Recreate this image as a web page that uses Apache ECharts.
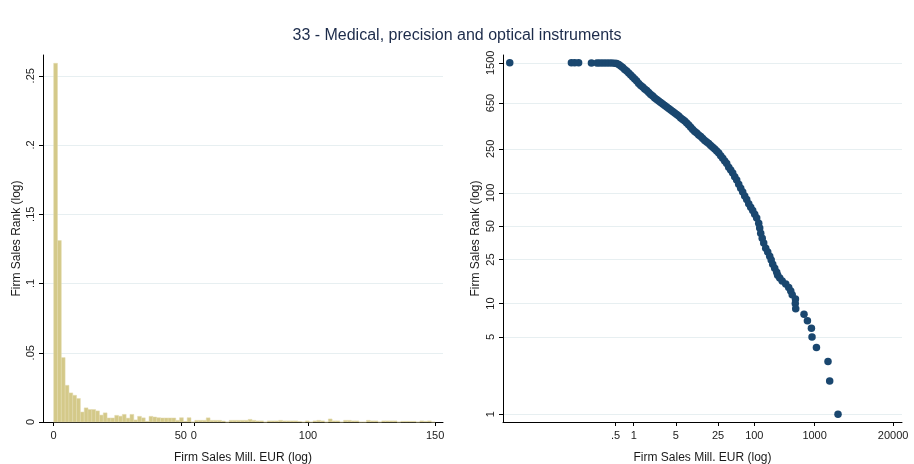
<!DOCTYPE html>
<html>
<head>
<meta charset="utf-8">
<script src="https://cdn.jsdelivr.net/npm/echarts@6/dist/echarts.min.js"></script>
<style>
html,body{margin:0;padding:0;background:#fff;}
#c{width:914px;height:464px;}
</style>
</head>
<body>
<div id="c"></div>
<script>
// ---------- DATA ----------
const chartTitle = '33 - Medical, precision and optical instruments';
const xAxisTitle = 'Firm Sales Mill. EUR (log)';
const yAxisTitle = 'Firm Sales Rank (log)';

// Histogram (left): bins of width 1.5 starting at 0, density heights
const histBinStart = 0;
const histBinWidth = 1.5;
const histHeights = [
  0.259, 0.131, 0.0465, 0.0265, 0.021, 0.0193, 0.017, 0.0072, 0.0102, 0.009,
  0.009, 0.008, 0.005, 0.0066, 0.0029, 0.0029, 0.0048, 0.0042, 0.0055, 0.0028,
  0.0055, 0.0015, 0.0041, 0.003, 0.0005, 0.0041, 0.0036, 0.0031, 0.0029, 0.0029,
  0.0029, 0.0029, 0.0012, 0.0031, 0.0005, 0.0031, 0, 0.0012, 0.0012, 0.0012,
  0.003, 0.0012, 0.0012, 0.0012, 0.0007, 0, 0.0012, 0.0012, 0.0012, 0.0012,
  0.0012, 0.0019, 0.0012, 0.0008, 0.0008, 0, 0.0008, 0.0008, 0.0008, 0.0012,
  0.0008, 0.0008, 0.0008, 0.0008, 0.0004, 0, 0.0008, 0, 0.0008, 0.0012,
  0.0008, 0, 0.0022, 0.0008, 0.0008, 0, 0.0012, 0.0012, 0.0008, 0.0008,
  0, 0, 0.0012, 0.0008, 0.0008, 0, 0.0008, 0.0008, 0.0008, 0.0008,
  0, 0.0005, 0.0005, 0.0005, 0.0005, 0, 0.0008, 0.0005, 0.0008, 0
];
const histXTicks = [0, 50, 55.1, 100, 150];
const histXTickLabels = ['0', '50', '0', '100', '150'];
const histYTicks = [0, 0.05, 0.1, 0.15, 0.2, 0.25];
const histYTickLabels = ['0', '.05', '.1', '.15', '.2', '.25'];

// Rank-size scatter (right): firm sales (mill. EUR) and rank
const rankSales = [
  0.0088, 0.0926, 0.105, 0.122, 0.199, 0.246, 0.273, 0.306, 0.343, 0.385, 0.432, 0.484, 0.522,
  0.564, 0.609, 0.657, 0.709, 0.765, 0.826, 0.892, 0.962, 1.039, 1.121,
  1.210, 1.307, 1.410, 1.522, 1.643, 1.774, 1.914, 2.066, 2.230, 2.407,
  2.598, 2.804, 3.027, 3.267, 3.526, 3.806, 4.108, 4.434, 4.786, 5.166,
  5.576, 6.018, 6.496, 7.011, 7.568, 8.168, 8.816, 9.515, 10.27, 11.09,
  11.96, 12.92, 13.94, 15.05, 16.24, 17.53, 18.92, 20.42, 22.04, 23.79,
  25.68, 27.72, 29.92, 32.29, 34.85, 37.62, 40.60, 43.83, 47.31, 51.06,
  55.11, 59.49, 64.21, 69.31, 74.81, 80.74, 87.15, 94.07, 101.5, 109.6,
  118.3, 122.9, 127.7, 135.2, 143.2, 154.6, 166.9, 180.1, 190.7, 201.9,
  217.9, 235.2,
  244, 264, 290, 332, 372, 402, 425, 481, 478, 486, 667, 760, 885, 906, 1072, 1667, 1778, 2443
];
const rankValues = [
  1500, 1499, 1498, 1497, 1496, 1495, 1494, 1493, 1492, 1491, 1490, 1488, 1476,
  1445, 1401, 1358, 1302, 1263, 1211, 1162, 1114, 1069, 1025,
  973, 934, 905, 868, 841, 807, 774, 750, 720, 698,
  676, 655, 635, 616, 597, 578, 561, 543, 527, 511,
  495, 475, 460, 446, 428, 410, 393, 374, 358, 347,
  333, 323, 310, 297, 288, 279, 268, 259, 249, 239,
  229, 217, 206, 194, 184, 171, 161, 151, 140, 131,
  120, 110, 102, 93.6, 87.0, 80.0, 74.4, 69.2, 64.3, 59.2,
  53.3, 48.1, 43.3, 39.0, 35.2, 31.7, 29.2, 26.8, 24.7, 22.7,
  20.9, 19.2,
  18, 17, 16, 15, 14, 13, 12, 11, 10, 9, 8, 7, 6, 5, 4, 3, 2, 1
];
const rankXTicks = [0.5, 1, 5, 25, 100, 1000, 20000];
const rankXTickLabels = ['.5', '1', '5', '25', '100', '1000', '20000'];
const rankYTicks = [1, 5, 10, 25, 50, 100, 250, 650, 1500];
const rankYTickLabels = ['1', '5', '10', '25', '50', '100', '250', '650', '1500'];

// ---------- CHART ----------
function labelFor(ticks, labels) {
  return function (v) {
    for (let i = 0; i < ticks.length; i++) {
      if (Math.abs(ticks[i] - v) <= 1e-4 * Math.max(1, Math.abs(ticks[i]))) return labels[i];
    }
    return '';
  };
}

const histData = histHeights.map((h, i) => [
  histBinStart + i * histBinWidth,
  histBinStart + (i + 1) * histBinWidth,
  h
]);
const scatterData = rankSales.map((s, i) => [s, rankValues[i]]);

const FONT = '"Liberation Sans", Arial, sans-serif';
const TXT = '#1a1a1a';
const GRIDC = '#e7eff1';

function axisCommon() {
  return {
    axisLine: { show: true, onZero: false, lineStyle: { color: '#000', width: 1 } },
    nameTextStyle: { color: TXT, fontFamily: FONT, fontSize: 12 },
    nameLocation: 'middle',
    nameMoveOverlap: false
  };
}

const chart = echarts.init(document.getElementById('c'), null, { renderer: 'canvas' });

const option = {
  backgroundColor: '#fff',
  animation: false,
  title: {
    text: chartTitle,
    left: 'center',
    top: 23,
    textStyle: { color: '#1c2b4a', fontFamily: FONT, fontSize: 16, fontWeight: 'normal' }
  },
  grid: [
    { left: 43, top: 55, width: 400, height: 367, containLabel: false, outerBoundsMode: 'none' },
    { left: 503, top: 55, width: 399, height: 367, containLabel: false, outerBoundsMode: 'none' }
  ],
  xAxis: [
    Object.assign(axisCommon(), {
      gridIndex: 0, type: 'value', min: -4.2, max: 153.1,
      name: xAxisTitle, nameGap: 30,
      splitLine: { show: false },
      axisTick: { show: true, length: 4, customValues: histXTicks, lineStyle: { color: '#000' } },
      axisLabel: { color: TXT, fontFamily: FONT, fontSize: 11, margin: 8,
        customValues: histXTicks, formatter: labelFor(histXTicks, histXTickLabels) }
    }),
    Object.assign(axisCommon(), {
      gridIndex: 1, type: 'log', logBase: 10, min: 0.0068, max: 28130,
      name: xAxisTitle, nameGap: 30,
      splitLine: { show: false },
      axisTick: { show: true, length: 4, customValues: rankXTicks, lineStyle: { color: '#000' } },
      axisLabel: { color: TXT, fontFamily: FONT, fontSize: 11, margin: 8,
        customValues: rankXTicks, formatter: labelFor(rankXTicks, rankXTickLabels) }
    })
  ],
  yAxis: [
    Object.assign(axisCommon(), {
      gridIndex: 0, type: 'value', min: 0, max: 0.265,
      name: yAxisTitle, nameGap: 20,
      splitLine: { show: true, lineStyle: { color: GRIDC, width: 1 } },
      axisTick: { show: true, length: 4, customValues: histYTicks, lineStyle: { color: '#000' } },
      axisLabel: { color: TXT, fontFamily: FONT, fontSize: 11, margin: 7, rotate: 90,
        customValues: histYTicks, formatter: labelFor(histYTicks, histYTickLabels) }
    }),
    Object.assign(axisCommon(), {
      gridIndex: 1, type: 'log', logBase: 10, min: 0.851, max: 1763,
      name: yAxisTitle, nameGap: 21,
      splitLine: { show: true, lineStyle: { color: GRIDC, width: 1 } },
      axisTick: { show: true, length: 4, customValues: rankYTicks, lineStyle: { color: '#000' } },
      axisLabel: { color: TXT, fontFamily: FONT, fontSize: 11, margin: 7, rotate: 90,
        customValues: rankYTicks, formatter: labelFor(rankYTicks, rankYTickLabels) }
    })
  ],
  series: [
    {
      type: 'custom',
      xAxisIndex: 0, yAxisIndex: 0,
      data: histData,
      encode: { x: [0, 1], y: 2 },
      renderItem: function (params, api) {
        const p0 = api.coord([api.value(0), 0]);
        const p1 = api.coord([api.value(1), api.value(2)]);
        return {
          type: 'rect',
          shape: { x: p0[0], y: p1[1], width: p1[0] - p0[0], height: p0[1] - p1[1] },
          style: { fill: '#d4c989', stroke: '#e2dbaf', lineWidth: 0.5 }
        };
      },
      silent: true
    },
    {
      type: 'scatter',
      xAxisIndex: 1, yAxisIndex: 1,
      data: scatterData,
      symbol: 'circle',
      symbolSize: 7.5,
      itemStyle: { color: '#1a476f', opacity: 1 },
      silent: true
    }
  ]
};
chart.setOption(option);
</script>
</body>
</html>
